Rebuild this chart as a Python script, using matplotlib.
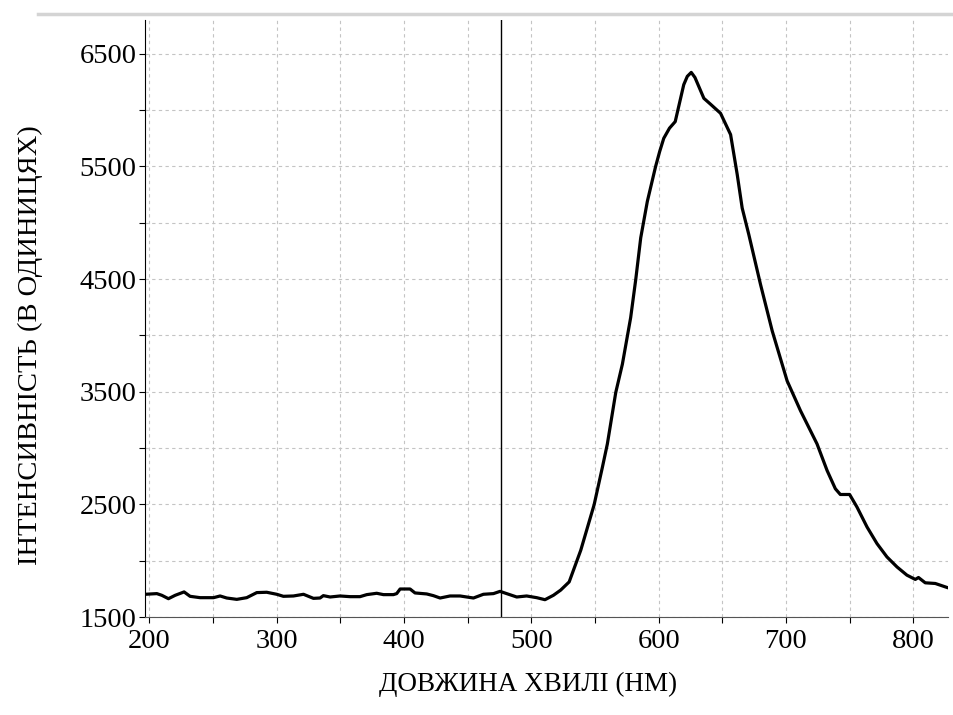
import matplotlib.pyplot as plt
from matplotlib.lines import Line2D
from matplotlib.ticker import MultipleLocator

plt.rcParams["font.family"] = ["Liberation Serif", "DejaVu Serif"]

# spectrum
wavelength = [196.6, 205.8, 209.7, 214.9, 220.2, 227.2, 231.9, 239.8, 250.3, 255.5,
              260.7, 268.6, 276.4, 284.3, 292.1, 300, 305.2, 313.1, 321, 328.8,
              334, 336.6, 341.9, 349.7, 357.6, 365.4, 370.7, 378.5, 383.8, 391.6,
              394.2, 396.9, 404.7, 408.6, 417.8, 423, 428.3, 436.1, 444, 454.5,
              462.3, 470.2, 475.4, 480.6, 488.5, 496.3, 504.2, 510.7, 517.3, 523,
              529.7, 538.8, 549.3, 555.8, 559.7, 566.3, 571.5, 578, 582, 585.9,
              591.1, 597.6, 600.8, 604, 608.5, 613, 619.7, 622.5, 625.6, 628.5,
              635.5, 641, 648.6, 656.5, 661.7, 665.6, 670.8, 680, 689.2, 700.9,
              711.4, 724.4, 732.3, 738.8, 742.7, 750, 755.8, 763.7, 771.5, 779.3,
              787.2, 795, 801.6, 804.1, 809.4, 817.3, 826.4]
intensity = [1702, 1708, 1693, 1663, 1693, 1723, 1684, 1672, 1672, 1687,
             1669, 1657, 1672, 1717, 1720, 1702, 1684, 1687, 1702, 1666,
             1669, 1690, 1678, 1687, 1681, 1681, 1699, 1711, 1699, 1699,
             1708, 1749, 1749, 1714, 1705, 1690, 1669, 1687, 1687, 1669,
             1702, 1708, 1728, 1708, 1678, 1687, 1672, 1654, 1693, 1739,
             1812, 2093, 2497, 2830, 3037, 3494, 3745, 4158, 4497, 4866,
             5190, 5500, 5633, 5750, 5840, 5898, 6226, 6300, 6335, 6290,
             6105, 6050, 5972, 5783, 5429, 5131, 4896, 4453, 4040, 3597,
             3332, 3037, 2801, 2639, 2588, 2588, 2476, 2299, 2152, 2034,
             1945, 1872, 1834, 1851, 1804, 1798, 1763]
marker_x = 476.5

fig = plt.figure(figsize=(9.54, 7.15), dpi=100)
ax = fig.add_axes([0.152, 0.137, 0.842, 0.835])

ax.plot(wavelength, intensity, color="black", lw=2.3, solid_joinstyle="round")
ax.axvline(marker_x, color="black", lw=1.0)

ax.set_xlim(196.5, 827.5)
ax.set_ylim(1500, 6800)
ax.xaxis.set_major_locator(MultipleLocator(100))
ax.xaxis.set_minor_locator(MultipleLocator(50))
ax.yaxis.set_major_locator(MultipleLocator(1000))
ax.yaxis.set_minor_locator(MultipleLocator(500))
ax.set_yticks([1500, 2500, 3500, 4500, 5500, 6500])

ax.grid(True, which="both", color="#c4c4c4", linestyle=(0, (3, 3)), lw=0.8)
ax.set_axisbelow(True)

for s in ["top", "right"]:
    ax.spines[s].set_visible(False)
ax.spines["bottom"].set_color("#555555")
ax.spines["left"].set_color("black")
ax.tick_params(which="both", direction="out", length=4.5, width=0.8, labelsize=20.5)
ax.tick_params(axis="x", pad=4)
ax.tick_params(axis="y", pad=1.5)

ax.set_xlabel("ДОВЖИНА ХВИЛІ (НМ)", fontsize=19.5)
ax.set_ylabel("ІНТЕНСИВНІСТЬ (В ОДИНИЦЯХ)", fontsize=20.5)
ax.xaxis.set_label_coords(0.477, -0.092)
ax.yaxis.set_label_coords(-0.127, 0.455)

fig.add_artist(Line2D([0.04, 1.0], [1 - 14 / 715] * 2, color="#d4d4d4", lw=2.5))

fig.savefig("out.png", dpi=100)
